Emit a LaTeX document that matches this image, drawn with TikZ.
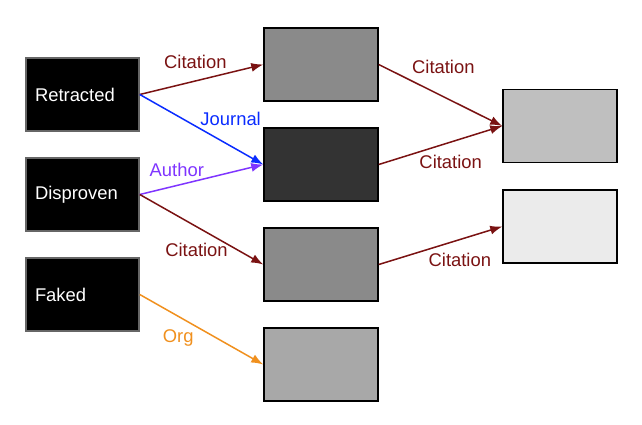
\documentclass[tikz,border=0pt]{standalone}
\usepackage{fontspec}
\setmainfont{Liberation Sans}
\usepackage{tikz}
\usetikzlibrary{arrows.meta}
\definecolor{citered}{HTML}{7A1212}
\definecolor{journalblue}{HTML}{0A2CFF}
\definecolor{authorpurple}{HTML}{7F35FF}
\definecolor{orgorange}{HTML}{F0901E}

\begin{document}
\begin{tikzpicture}[x=1pt,y=-1pt,font=\fontsize{18.4}{21}\selectfont,
    source/.style={fill=black,draw=black!60,line width=1.5pt,text=white,
      minimum height=73pt,inner xsep=9pt,text width=95pt,align=left},
    target/.style={draw=black,line width=1.5pt,minimum width=114pt,minimum height=73pt},
    link/.style={line width=1.5pt,-{Latex[length=12pt,width=9pt]}}]
    \useasboundingbox (0,0) rectangle (642,425);
    % the sources
    \node (retracted) at (82.5,94.5)[source]{Retracted};
    \node (disproven) at (82.5,194.5)[source]{Disproven};
    \node (faked) at (82.5,294.5)[source]{Faked};

    % the middle column
    \node (mid1) at (321,64.5)[target,fill=black!46]{};
    \node (mid2) at (321,164.5)[target,fill=black!80]{};
    \node (mid3) at (321,264.5)[target,fill=black!46]{};
    \node (mid4) at (321,364.5)[target,fill=black!34]{};

    % the right column
    \node (right1) at (560,126)[target,fill=black!25]{};
    \node (right2) at (560,226.5)[target,fill=black!8]{};

    % the links
    \draw[link,citered] (retracted.east) -- node[pos=0.45,above=8pt]{Citation} (mid1.west);
    \draw[link,journalblue] (retracted.east) -- node[pos=0.72,above=15pt,xshift=2pt]{Journal} (mid2.west);
    \draw[link,authorpurple] (disproven.east) -- node[pos=0.3,above=5pt]{Author} (mid2.west);
    \draw[link,citered] (disproven.east) -- node[pos=0.5,below=10pt,xshift=-5pt]{Citation} (mid3.west);
    \draw[link,orgorange] (faked.east) -- node[pos=0.4,below=3pt,xshift=-11pt]{Org} (mid4.west);
    \draw[link,citered] (mid1.east) -- node[pos=0.45,above=14pt,xshift=9pt]{Citation} (right1.west);
    \draw[link,citered] (mid2.east) -- node[pos=0.55,below=8pt,xshift=4pt]{Citation} (right1.west);
    \draw[link,citered] (mid3.east) -- node[pos=0.6,below=7pt,xshift=7pt]{Citation} (right2.west);
  \end{tikzpicture}
\end{document}
